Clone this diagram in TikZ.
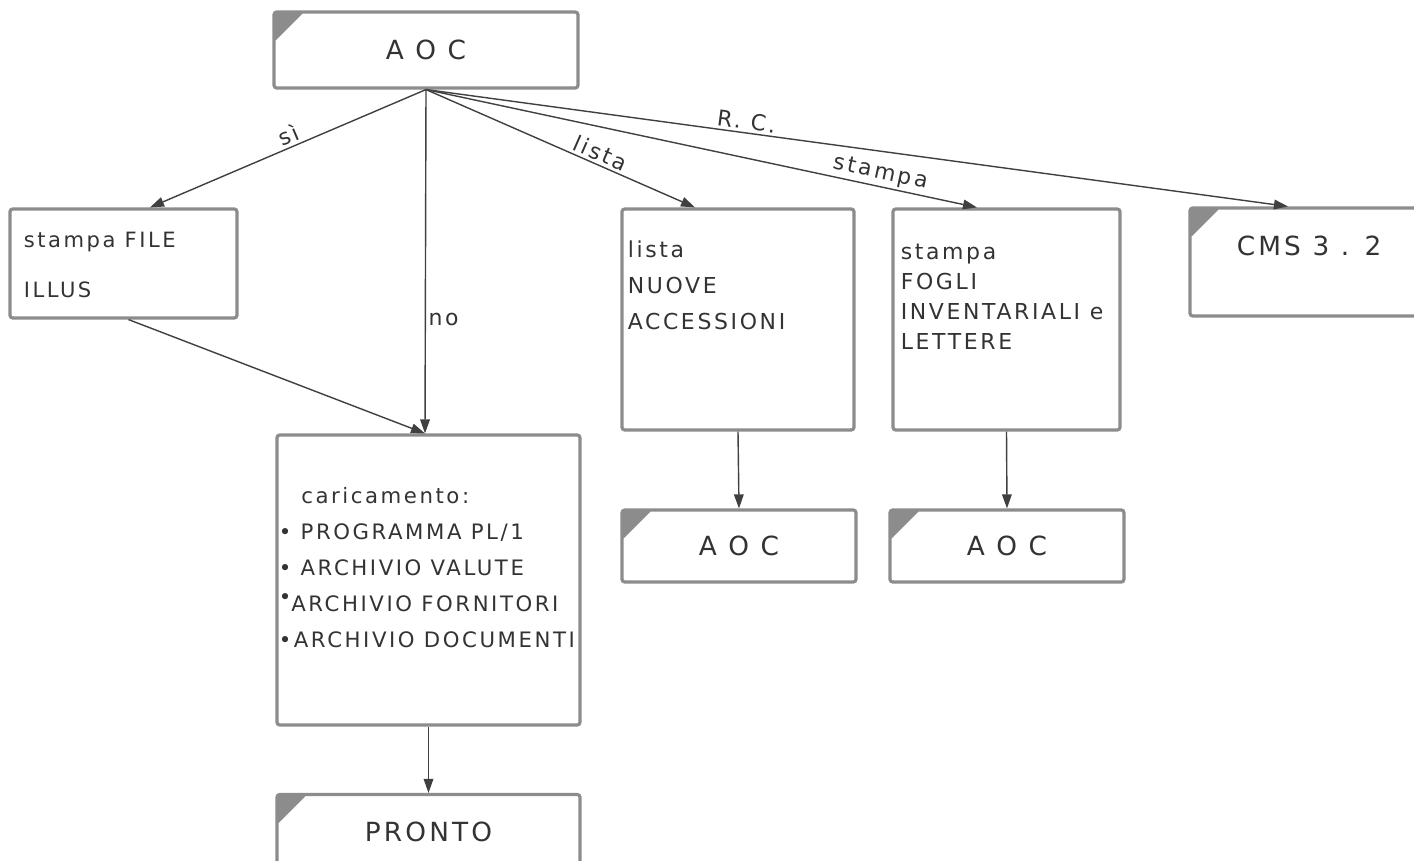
\documentclass[tikz,border=0pt]{standalone}
\usepackage{fontspec}
\setmainfont{DejaVu Sans}[LetterSpace=12]
\usetikzlibrary{arrows.meta,positioning}

\begin{document}
\begin{tikzpicture}[x=0.02cm,y=-0.02cm,
  box/.style={draw=black!45,line width=1.8pt,rounded corners=1.5pt,inner sep=0pt,text=black!80},
  term/.style={box,path picture={\fill[black!45] (path picture bounding box.north west) -- ++(0.6cm,0cm) -- ++(-0.6cm,-0.6cm) -- cycle;}},
  txt/.style={inner sep=0pt,align=left,text=black!80,font=\fontsize{12.5}{20.4}\selectfont},
  arr/.style={draw=black!75,line width=0.8pt,-{Triangle[length=8pt,width=5.5pt]}},
  lbl/.style={inner sep=1.5pt,text=black!80,font=\fontsize{12.5}{14}\selectfont}]
  \useasboundingbox (0,0) rectangle (1414,861);
  \node[term,minimum width=6.08cm,minimum height=1.52cm,font=\fontsize{15}{18}\selectfont] (aoc) at (426,50) {A O C};
  \node[box,minimum width=4.54cm,minimum height=2.18cm] (illus) at (123.5,263.5) {};
  \node[box,minimum width=6.06cm,minimum height=5.8cm] (carica) at (428.5,580) {};
  \node[box,minimum width=4.64cm,minimum height=4.42cm] (lista) at (738,319.5) {};
  \node[box,minimum width=4.54cm,minimum height=4.42cm] (fogli) at (1006.5,319.5) {};
  \node[term,minimum width=4.6cm,minimum height=2.16cm] (cms) at (1305,262) {};
  \node[term,minimum width=4.68cm,minimum height=1.44cm,font=\fontsize{15}{18}\selectfont] (aoc2) at (739,546) {A O C\hspace{0.6cm}};
  \node[term,minimum width=4.68cm,minimum height=1.44cm,font=\fontsize{15}{18}\selectfont] (aoc3) at (1007,546) {A O C};
  \node[term,minimum width=6.06cm,minimum height=1.5cm,font=\fontsize{15}{18}\selectfont] (pronto) at (428.5,832) {PRONTO};

  \node[txt,font=\fontsize{12}{28.5}\selectfont,below right=0.48cm and 0.3cm of illus.north west] (illus-t) {stampa FILE\\ILLUS};
  \node[txt,font=\fontsize{12.1}{20.4}\selectfont,below right=1.08cm and 0.06cm of carica.north west] (carica-t) {\hspace{0.45cm}caricamento:\\\textbullet\ PROGRAMMA PL/1\\\textbullet\ ARCHIVIO VALUTE\\\raisebox{0.6ex}{\textbullet}ARCHIVIO FORNITORI\\\textbullet{}ARCHIVIO DOCUMENTI};
  \node[txt,below right=0.66cm and 0.14cm of lista.north west] (lista-t) {lista\\NUOVE\\ACCESSIONI};
  \node[txt,font=\fontsize{12.5}{17.2}\selectfont,below right=0.72cm and 0.18cm of fogli.north west] (fogli-t) {stampa\\FOGLI\\INVENTARIALI e\\LETTERE};
  \node[txt,font=\fontsize{15}{18}\selectfont,below right=0.58cm and 0.96cm of cms.north west] (cms-t) {CMS 3 . 2};

  \draw[arr] (aoc.south) -- node[lbl,sloped,above,pos=0.48] {sì} ([xshift=0.53cm]illus.north);
  \draw[arr] (aoc.south) -- node[lbl,right,pos=0.67] {no} ([xshift=-0.07cm]carica.north);
  \draw[arr] (aoc.south) -- node[lbl,sloped,above,pos=0.63] {lista} ([xshift=-0.86cm]lista.north);
  \draw[arr] (aoc.south) -- node[lbl,sloped,above,pos=0.82] {stampa} ([xshift=-0.59cm]fogli.north);
  \draw[arr] (aoc.south) -- node[lbl,sloped,above,pos=0.37] {R. C.} ([xshift=-0.34cm]cms.north);
  \draw[arr] ([xshift=0.1cm]illus.south) -- ([xshift=-0.07cm]carica.north);
  \draw[arr] (lista.south) -- (aoc2.north);
  \draw[arr] (fogli.south) -- (aoc3.north);
  \draw[arr] (carica.south) -- (pronto.north);
\end{tikzpicture}
\end{document}
